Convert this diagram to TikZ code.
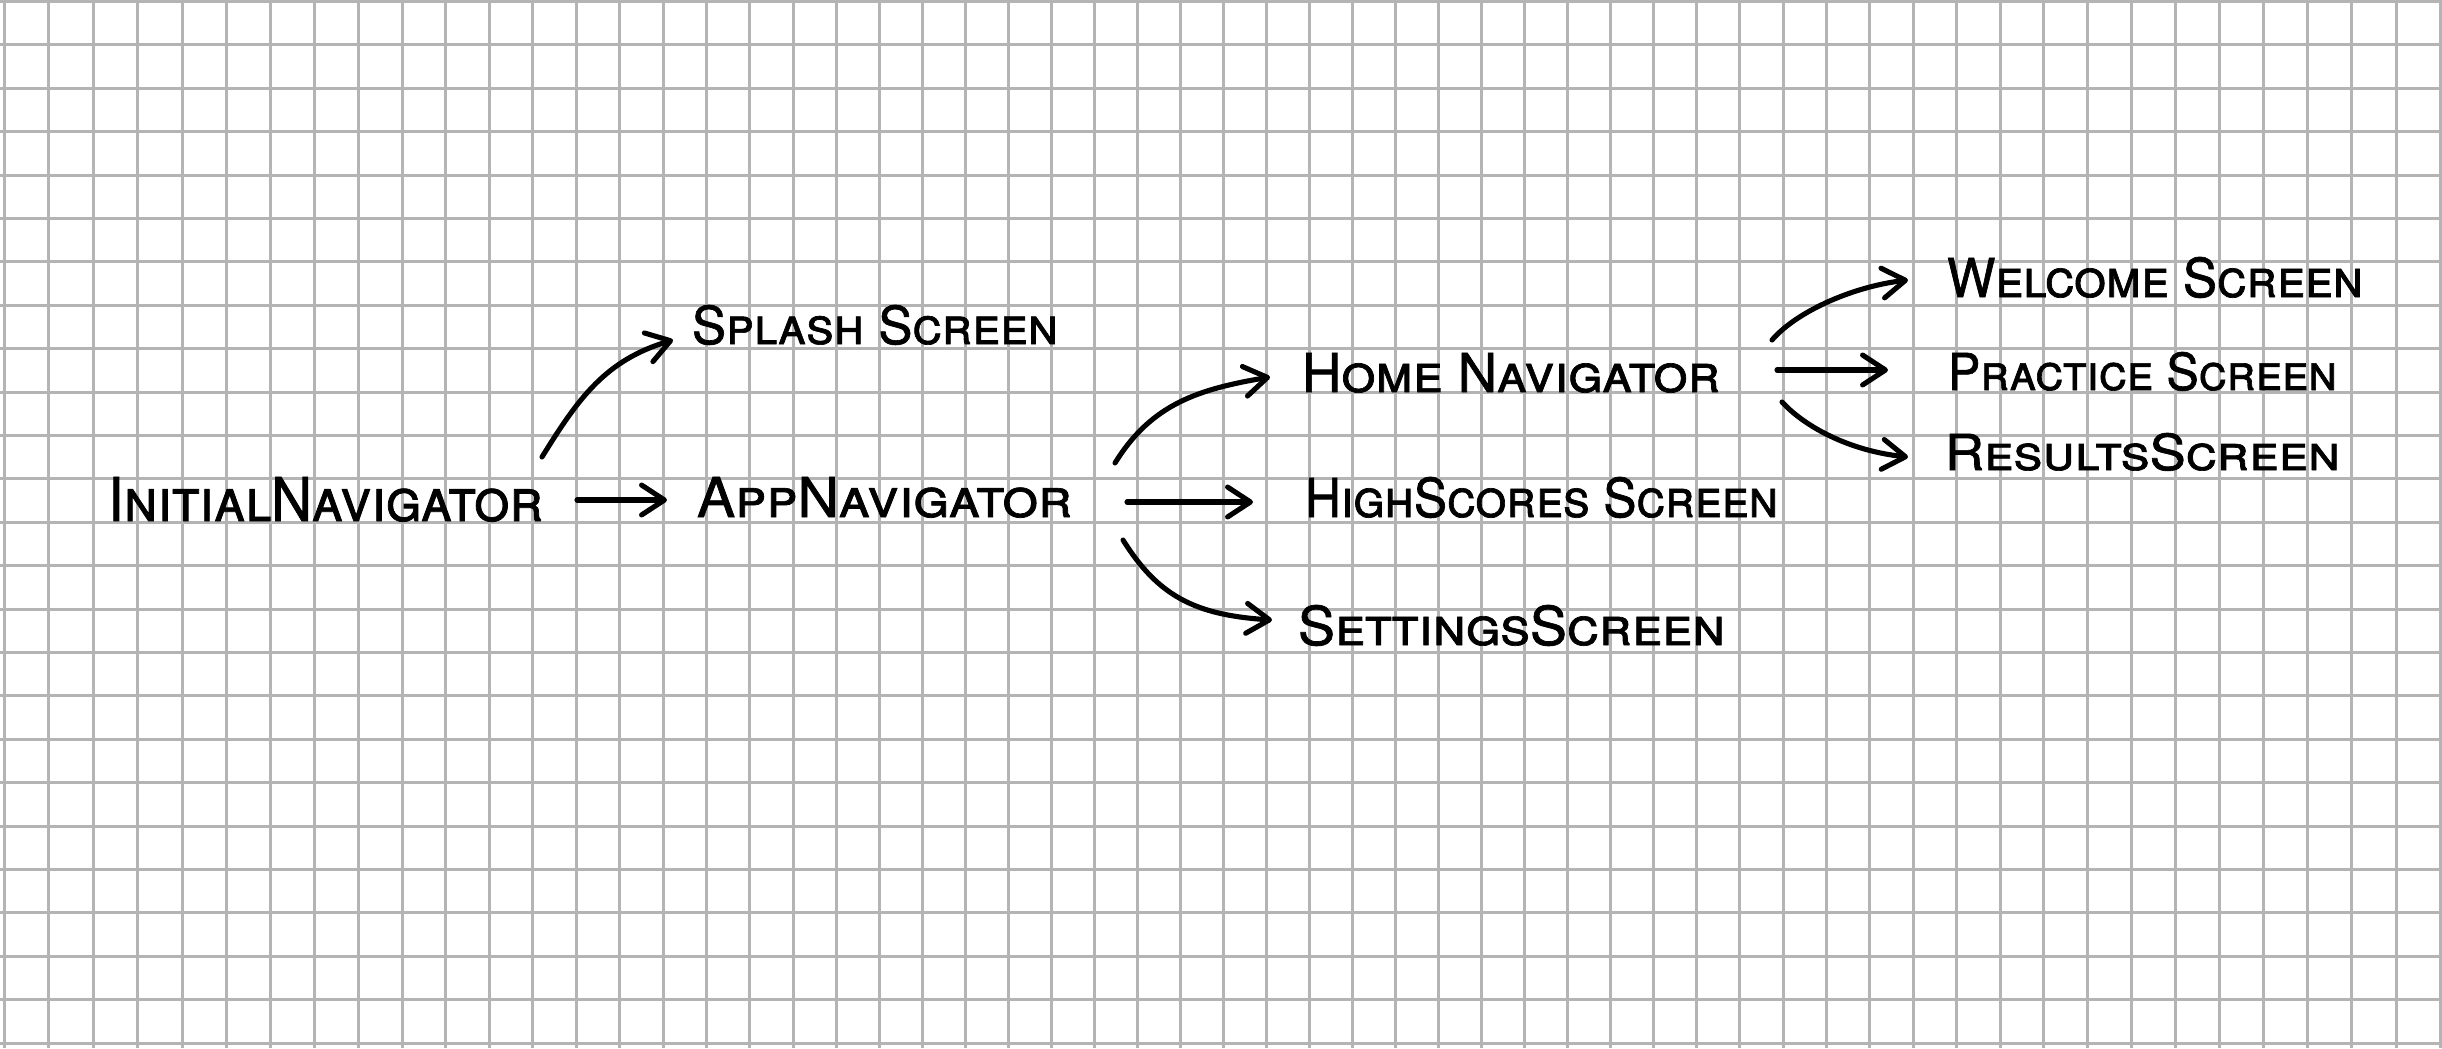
\documentclass[tikz,border=0pt]{standalone}
\usepackage{fontspec}
\setmainfont{TeX Gyre Heros}
\newfontfamily\hwfont{TeX Gyre Heros}[FakeBold=1.3]
\usepackage{graphicx}
\usetikzlibrary{arrows.meta}
\definecolor{gridc}{RGB}{180,180,180}
\newcommand\fitlab[3]{\resizebox{#1mm}{#2mm}{\hwfont\scshape #3}}
\begin{document}
\begin{tikzpicture}[x=0.01cm,y=-0.01cm,
  lbl/.style={anchor=base west,inner sep=0pt,outer sep=0pt,text=black},
  gridline/.style={draw=gridc,line width=0.85pt},
  link/.style={line width=1.45pt,line cap=round,-{Straight Barb[length=6.5pt,width=8.5pt,line cap=round,line join=round]}}]
\fill[white] (0,0) rectangle (2442,1048);
\useasboundingbox (0,0) rectangle (2442,1048);
\foreach \k in {0,...,56}{
  \pgfmathsetmacro\t{(\k-28.5)/10}
  \pgfmathsetmacro\xx{20.74+42.95*\k+0.71*\t*\t*\t}
  \draw[gridline] (\xx,0) -- (\xx,1048);
}
\foreach \k in {0,...,24}{
  \pgfmathsetmacro\yy{1.5+43.4*\k}
  \draw[gridline] (0,\yy) -- (2442,\yy);
}
% labels
\node[lbl] (init)     at (108,521)  {\fitlab{43.5}{4.4}{InitialNavigator}};
\node[lbl] (splash)   at (692,344)  {\fitlab{36.6}{3.9}{Splash Screen}};
\node[lbl] (app)      at (697,517)  {\fitlab{37.5}{4.0}{AppNavigator}};
\node[lbl] (home)     at (1302,392) {\fitlab{41.8}{3.9}{Home Navigator}};
\node[lbl] (high)     at (1305,517) {\fitlab{47.3}{4.0}{HighScores Screen}};
\node[lbl] (settings) at (1298,645) {\fitlab{42.7}{4.0}{SettingsScreen}};
\node[lbl] (welcome)  at (1947,297) {\fitlab{41.6}{4.0}{Welcome Screen}};
\node[lbl] (practice) at (1948,390) {\fitlab{38.9}{3.8}{Practice Screen}};
\node[lbl] (results)  at (1945,470) {\fitlab{39.5}{3.7}{ResultsScreen}};
% connector ends
\coordinate (a1s) at (542,457);  \coordinate (a1e) at (673,340);
\coordinate (a2s) at (577,500);  \coordinate (a2e) at (667,500);
\coordinate (a3s) at (1115,463); \coordinate (a3e) at (1270,377);
\coordinate (a4s) at (1127,502); \coordinate (a4e) at (1253,502);
\coordinate (a5s) at (1123,540); \coordinate (a5e) at (1272,620);
\coordinate (a6s) at (1772,340); \coordinate (a6e) at (1908,280);
\coordinate (a7s) at (1777,370); \coordinate (a7e) at (1888,370);
\coordinate (a8s) at (1782,402); \coordinate (a8e) at (1908,457);
% connectors
\draw[link] (a1s) .. controls (579,397) and (606,360) .. (a1e);
\draw[link] (a2s) -- (a2e);
\draw[link] (a3s) .. controls (1152,403) and (1200,389) .. (a3e);
\draw[link] (a4s) -- (a4e);
\draw[link] (a5s) .. controls (1158,596) and (1195,615) .. (a5e);
\draw[link] (a6s) .. controls (1795,313) and (1850,287) .. (a6e);
\draw[link] (a7s) -- (a7e);
\draw[link] (a8s) .. controls (1805,427) and (1850,451) .. (a8e);
\end{tikzpicture}
\end{document}
